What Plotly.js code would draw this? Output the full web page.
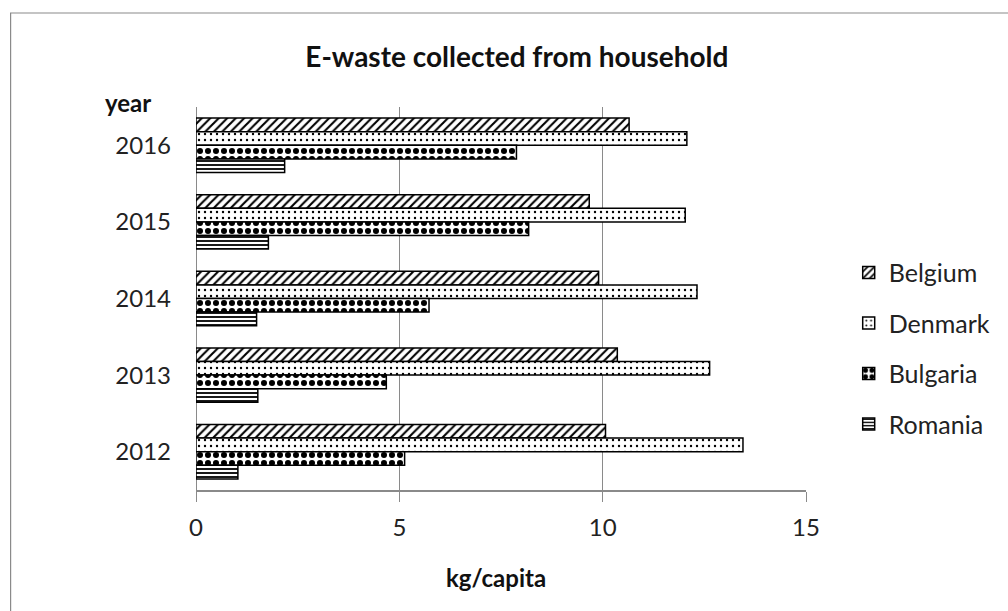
<!DOCTYPE html>
<html>
<head>
<meta charset="utf-8">
<script src="https://cdn.plot.ly/plotly-3.0.1.min.js"></script>
<style>html,body{margin:0;padding:0;background:#fff;}#chart{width:1008px;height:611px;}</style>
</head>
<body>
<div id="chart"></div>
<script>
const years = ['2016', '2015', '2014', '2013', '2012'];
const belgium = [10.65, 9.67, 9.9, 10.36, 10.07];
const denmark = [12.07, 12.03, 12.32, 12.63, 13.45];
const bulgaria = [7.88, 8.18, 5.73, 4.68, 5.13];
const romania = [2.18, 1.78, 1.49, 1.52, 1.03];
const seriesNames = ['Belgium', 'Denmark', 'Bulgaria', 'Romania'];
const xTicks = [0, 5, 10, 15];

const FONT = 'Lato, "Open Sans", "DejaVu Sans", sans-serif';
const patterns = [
  {shape: '/', size: 6, solidity: 0.35},
  {shape: '.', size: 6, solidity: 0.12},
  {shape: '.', size: 8, solidity: 0.45},
  {shape: '-', size: 4, solidity: 0.45}
];
const values = [belgium, denmark, bulgaria, romania];

const traces = seriesNames.map((name, i) => ({
  type: 'bar',
  orientation: 'h',
  name: name,
  y: years,
  x: values[i],
  legendgroup: name,
  marker: {
    color: 'white',
    line: {color: 'black', width: 1.5},
    pattern: Object.assign({fgcolor: 'black', bgcolor: 'white', fillmode: 'replace'}, patterns[i])
  },
  hoverinfo: 'x+name'
}));

const layout = {
  width: 1008, height: 611,
  margin: {l: 196, r: 200, t: 107, b: 121},
  paper_bgcolor: 'white', plot_bgcolor: 'white',
  font: {family: FONT, color: '#222'},
  title: {text: 'E-waste collected from household', font: {family: FONT, size: 28, weight: 'bold', color: '#111'},
          x: 0.526, xref: 'paper', xanchor: 'center', y: 1 - 57 / 611, yref: 'container', yanchor: 'middle'},
  barmode: 'group',
  bargap: 0.29,
  bargroupgap: 0,
  xaxis: {
    range: [0, 15], tickvals: xTicks, ticktext: xTicks.map(String),
    showgrid: true, gridcolor: '#8a8a8a', gridwidth: 1,
    zeroline: true, zerolinecolor: '#8a8a8a', zerolinewidth: 1,
    showline: true, linecolor: '#8a8a8a', linewidth: 1.5,
    ticks: 'outside', ticklen: 10, tickcolor: '#8a8a8a', tickwidth: 1,
    tickfont: {family: FONT, size: 24, color: '#222'},
    ticklabelstandoff: 6,
    fixedrange: true
  },
  yaxis: {
    type: 'category', categoryorder: 'array', categoryarray: years,
    autorange: 'reversed',
    showgrid: false, zeroline: false, showline: false, ticks: '',
    tickfont: {family: FONT, size: 24, color: '#222'},
    ticklabelstandoff: 24,
    fixedrange: true
  },
  legend: {
    x: 1.07, xanchor: 'left', y: 0.37, yanchor: 'middle',
    font: {family: FONT, size: 25, color: '#222'},
    traceorder: 'grouped', tracegroupgap: 15,
    itemwidth: 30, bgcolor: 'rgba(0,0,0,0)'
  },
  annotations: [
    {text: 'year', xref: 'paper', yref: 'paper', x: (128 - 196) / 612, y: (490 - 103) / 383,
     xanchor: 'center', yanchor: 'middle', showarrow: false,
     font: {family: FONT, size: 24, weight: 'bold', color: '#111'}},
    {text: 'kg/capita', xref: 'paper', yref: 'paper', x: (497 - 196) / 612, y: (490 - 577) / 383,
     xanchor: 'center', yanchor: 'middle', showarrow: false,
     font: {family: FONT, size: 24, weight: 'bold', color: '#111'}}
  ],
  shapes: [
    {type: 'rect', xref: 'paper', yref: 'paper', x0: (10 - 196) / 612, x1: 2, y0: -1, y1: (490 - 13) / 383,
     line: {color: '#8a8a8a', width: 1.2}, fillcolor: 'rgba(0,0,0,0)', layer: 'below'}
  ],
  showlegend: true
};

Plotly.newPlot('chart', traces, layout, {displayModeBar: false, staticPlot: true});
</script>
</body>
</html>
